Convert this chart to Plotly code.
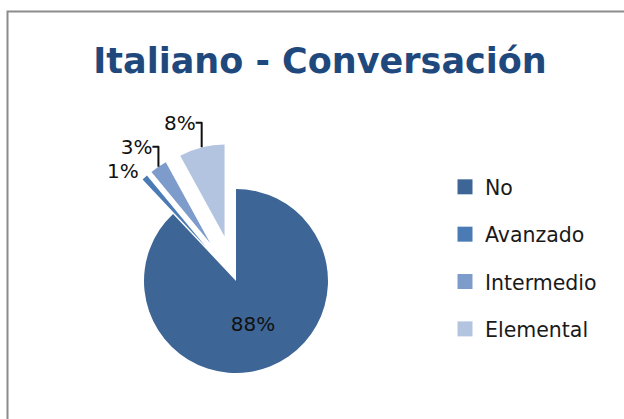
import plotly.graph_objects as go

categories = ["No", "Avanzado", "Intermedio", "Elemental"]
values = [88, 1, 3, 8]
colors = ["#3D6596", "#4A7BB5", "#7E9CCB", "#B3C4E0"]
pulls = [0, 0.5, 0.5, 0.5]
title_text = "Italiano - Conversación"

W, H = 624, 419

fig = go.Figure()
fig.add_trace(go.Pie(
    labels=categories,
    values=values,
    sort=False,
    direction="clockwise",
    rotation=0,
    pull=pulls,
    marker=dict(colors=colors, line=dict(width=0)),
    textinfo="percent",
    texttemplate="%{percent:.0%}",
    textposition=["inside", "outside", "outside", "outside"],
    insidetextorientation="horizontal",
    textfont=dict(family="DejaVu Sans", size=20, color="#111111"),
    showlegend=False,
    domain=dict(x=[98 / W, 374 / W], y=[0, 1 - 143 / H]),
    hoverinfo="label+percent",
))

for cat, col in zip(categories, colors):
    fig.add_trace(go.Scatter(
        x=[None], y=[None], mode="markers", name=cat,
        legendgroup=cat,
        marker=dict(symbol="square", size=15, color=col, line=dict(width=0)),
        showlegend=True,
    ))

fig.update_layout(
    width=W, height=H,
    margin=dict(l=0, r=0, t=0, b=0, autoexpand=False),
    paper_bgcolor="white",
    plot_bgcolor="white",
    xaxis=dict(visible=False),
    yaxis=dict(visible=False),
    title=dict(text=title_text, x=320 / W, xanchor="center", y=1 - 61 / H, yanchor="middle",
               font=dict(family="DejaVu Sans", size=35, color="#1F497D", weight="bold")),
    legend=dict(x=445 / W, y=1 - 167 / H, xanchor="left", yanchor="top",
                traceorder="grouped", tracegroupgap=17.7,
                font=dict(family="DejaVu Sans", size=20.5, color="#1a1a1a"),
                bgcolor="rgba(0,0,0,0)"),
    shapes=[dict(type="rect", xref="paper", yref="paper",
                 x0=7.5 / W, x1=1.2, y0=-0.2, y1=1 - 11.5 / H,
                 line=dict(color="#8C8C8C", width=2), fillcolor="rgba(0,0,0,0)")],
)

fig.write_html("out.html", config={"displayModeBar": False},
               post_script="document.body.style.margin='0';document.body.style.overflow='hidden';")
